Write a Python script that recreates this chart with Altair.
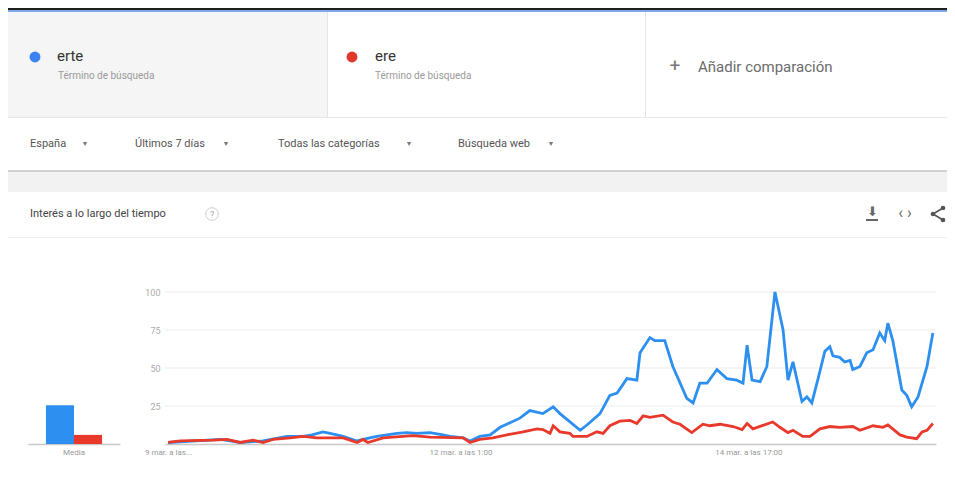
import altair as alt
import pandas as pd

# ---------------- data ----------------
series = ["erte", "ere"]
series_colors = ["#2d8ff0", "#e8392b"]
media_values = [25.5, 6]

# hours since the first sample (9 mar.)
erte_hours = [0, 11.6, 13.8, 16, 21.1, 26.4, 30, 32, 34.4, 36, 38.9, 42, 43.3, 46.4, 50.9,
              53.1, 55.3, 58.2, 61.1, 62.7, 65.6, 67.1, 69.3, 71.6, 73.8, 76, 78.2, 80.4,
              83.3, 85.6, 87.1, 91.6, 93.1, 96, 98.2, 99.8, 102, 104.2, 104.9, 107.1, 108.2,
              110.4, 112.2, 115.3, 116.7, 118.2, 119.8, 122, 124.2, 126.4, 127.8, 128.7,
              129.8, 131.6, 133.1, 134.9, 136.7, 137.8, 138.9, 140.9, 142, 143.1, 144.4,
              146, 147.1, 147.8, 149.3, 150.4, 151.6, 152.2, 153.8, 155.3, 156.7, 158.2,
              159.3, 160, 161.1, 163.1, 164.2, 165.3, 166.7, 168.7, 170]
erte_values = [1, 3, 2, 1, 2, 5, 5, 6, 8, 7, 5, 2, 3, 5, 7,
               7.5, 7, 7.5, 6, 5, 4, 2, 5, 6, 11, 14, 17, 22,
               20, 24.5, 20, 9, 12.5, 20, 32, 33.5, 43, 42, 60, 70, 68,
               68, 51, 30, 27, 40, 40, 49, 43, 42, 40, 65,
               42, 41, 51, 100, 75, 42, 54, 28, 31, 27, 42,
               61, 64, 58, 57, 54, 55, 49, 51, 60, 62, 73,
               68, 79.5, 68, 35.5, 32, 24.5, 31, 51, 73]

ere_hours = [0, 2.7, 10, 13.1, 16, 18.9, 21.1, 23.3, 27.1, 30, 33.1, 38.9, 42, 43.3, 44.4,
             47.8, 54.4, 58.2, 65.6, 67.1, 69.3, 72.2, 75.3, 78.9, 82, 83.3, 84.9, 85.6,
             87.1, 89.3, 90, 93.1, 95.3, 96.7, 98.2, 100.4, 102.7, 104.2, 105.6, 107.1,
             110, 112.2, 113.8, 116.4, 118.9, 120.4, 122.7, 125.6, 127.6, 128.7, 130,
             134.4, 136, 137.8, 138.9, 141.1, 142.7, 144.9, 147.1, 149.3, 152.2, 153.8,
             156.7, 158.9, 160, 162.7, 164.2, 166.4, 167.6, 168.7, 170]
ere_values = [1, 2, 2.5, 3, 1, 2.5, 1, 3, 4, 5, 4, 4, 1, 3, 1,
              4, 5.5, 4.5, 4, 1, 3, 4, 6, 8, 10, 9.5, 7, 12,
              8, 7, 5, 5, 8, 7, 12, 15, 15.5, 13.5, 18.5, 17.5,
              19, 14.5, 13, 7.5, 13, 12, 13, 11.5, 9.5, 13.5, 10,
              14.5, 11, 7.5, 9, 5, 5, 10, 11.5, 11, 11.5, 9,
              12, 11, 12.5, 6, 4.5, 3.5, 8, 9, 13.5]

x_tick_values = [0, 65, 129]
x_tick_labels = ["9 mar. a las...", "12 mar. a las 1:00", "14 mar. a las 17:00"]
y_tick_values = [25, 50, 75, 100]

# ---------------- tables ----------------
line_df = pd.concat([
    pd.DataFrame({"hour": erte_hours, "value": erte_values, "series": "erte"}),
    pd.DataFrame({"hour": ere_hours, "value": ere_values, "series": "ere"}),
], ignore_index=True)
bar_df = pd.DataFrame({"cat": "Media", "series": series, "value": media_values})
grid_df = pd.DataFrame({"value": y_tick_values})
one = pd.DataFrame({"a": [0]})

FONT = "Roboto"
# page position of the plot origin (top-left of the line plot area)
OX, OY = 165, 292
PLOT_W, PLOT_H = 771, 152

label_expr = "''"
for v, l in reversed(list(zip(x_tick_values, x_tick_labels))):
    label_expr = f"datum.value == {v} ? '{l}' : {label_expr}"

color_scale = alt.Scale(domain=series, range=series_colors)
y_scale = alt.Scale(domain=[0, 100], nice=False)
y_axis = alt.Axis(values=y_tick_values, grid=False, domain=False, ticks=False,
                  labelColor="#aaa", labelFontSize=9, labelFont=FONT, labelPadding=5, title=None)


def rect(x1, y1, x2, y2, color):
    return alt.Chart(one).mark_rect(color=color).encode(
        x=alt.value(x1 - OX), x2=alt.value(x2 - OX),
        y=alt.value(y1 - OY), y2=alt.value(y2 - OY))


def seg(x1, y1, x2, y2, color, w=1.6):
    return alt.Chart(one).mark_rule(color=color, strokeWidth=w).encode(
        x=alt.value(x1 - OX), x2=alt.value(x2 - OX),
        y=alt.value(y1 - OY), y2=alt.value(y2 - OY))


def txt(s, x, y, size, color, align="left", weight="normal"):
    return alt.Chart(one).mark_text(
        text=s, align=align, baseline="middle", fontSize=size, color=color,
        font=FONT, fontWeight=weight).encode(x=alt.value(x - OX), y=alt.value(y - OY))


def dot(x, y, color, size=120):
    return alt.Chart(one).mark_circle(color=color, size=size, opacity=1).encode(
        x=alt.value(x - OX), y=alt.value(y - OY))


bg = [
    rect(0, 8, 960, 10, "#1e1e1e"),
    rect(0, 10, 960, 12, "#7fa9e6"),
    rect(8, 12, 327, 117, "#f5f5f5"),
    rect(327, 12, 328, 117, "#e4e4e4"),
    rect(645, 12, 646, 117, "#e4e4e4"),
    rect(0, 117, 960, 118, "#e8e8e8"),
    rect(0, 170, 960, 172, "#d2d2d2"),
    rect(0, 172, 960, 192, "#f2f2f2"),
    rect(0, 237, 960, 238, "#efefef"),
    rect(866, 219, 878, 221, "#666"),
]

texts = [
    dot(35, 57, "#3d82f2"),
    txt("erte", 57, 56, 15, "#333"),
    txt("Término de búsqueda", 58, 76, 10, "#9a9a9a"),
    dot(352, 57, "#e0392c"),
    txt("ere", 375, 56, 15, "#333"),
    txt("Término de búsqueda", 375, 76, 10, "#9a9a9a"),
    txt("+", 675, 66, 19, "#777", align="center"),
    txt("Añadir comparación", 698, 67, 15, "#6b6b6b"),
    txt("España", 30, 144, 11, "#555"),
    txt("▼", 85, 144, 7, "#777", align="center"),
    txt("Últimos 7 días", 135, 144, 11, "#555"),
    txt("▼", 226, 144, 7, "#777", align="center"),
    txt("Todas las categorías", 278, 144, 11, "#555"),
    txt("▼", 409, 144, 7, "#777", align="center"),
    txt("Búsqueda web", 458, 144, 11, "#555"),
    txt("▼", 551, 144, 7, "#777", align="center"),
    txt("Interés a lo largo del tiempo", 30, 214, 11, "#444"),
    alt.Chart(one).mark_point(shape="circle", filled=False, size=160, color="#bbb",
                              strokeWidth=1).encode(x=alt.value(212 - OX), y=alt.value(214 - OY)),
    txt("?", 212, 214.5, 9, "#aaa", align="center"),
    txt("⬇", 872, 212, 13, "#666", align="center"),
    txt("‹ ›", 905, 213, 16, "#666", align="center"),
    seg(933, 214, 943, 208, "#555"),
    seg(933, 214, 943, 220, "#555"),
    dot(933, 214, "#555", size=22),
    dot(943, 208, "#555", size=22),
    dot(943, 220, "#555", size=22),
]

grid = alt.Chart(grid_df).mark_rule(color="#ebebeb", strokeWidth=1).encode(
    y=alt.Y("value:Q", scale=y_scale, axis=y_axis),
    x=alt.value(0), x2=alt.value(PLOT_W),
)

bars = alt.Chart(bar_df).mark_bar().encode(
    x=alt.X("cat:N", title=None,
            scale=alt.Scale(range=[28 - OX, 120 - OX], paddingOuter=0.32, paddingInner=0),
            axis=alt.Axis(orient="bottom", labelAngle=0, ticks=False, grid=False,
                          domainColor="#c8c8c8", domainWidth=1.5, labelColor="#999",
                          labelFontSize=8, labelFont=FONT, labelPadding=4)),
    xOffset=alt.XOffset("series:N", sort=series, scale=alt.Scale(paddingInner=0, paddingOuter=0)),
    y=alt.Y("value:Q", stack=None, scale=y_scale, axis=y_axis),
    color=alt.Color("series:N", scale=color_scale, legend=None),
)

lines = alt.Chart(line_df).mark_line(strokeWidth=2.8).encode(
    x=alt.X("hour:Q", title=None, scale=alt.Scale(domain=[-0.7, 170.7], nice=False, zero=False),
            axis=alt.Axis(orient="bottom", values=x_tick_values, labelExpr=label_expr, ticks=False,
                          grid=False, domainColor="#c8c8c8", domainWidth=1.5, labelColor="#999",
                          labelFontSize=8, labelFont=FONT, labelPadding=4, labelFlush=False,
                          labelOverlap=False)),
    y=alt.Y("value:Q", scale=y_scale, axis=y_axis),
    color=alt.Color("series:N", scale=color_scale, legend=None, sort=series),
    order=alt.Order("series:N"),
)

chart = alt.layer(*bg, grid, bars, lines, *texts).resolve_scale(x="independent").properties(
    width=PLOT_W, height=PLOT_H,
    autosize=alt.AutoSizeParams(type="none"),
    padding={"left": OX - 8, "top": OY - 8, "right": 939 - (OX - 8) - PLOT_W,
             "bottom": 483 - (OY - 8) - PLOT_H},
    background="white",
).configure_view(stroke=None)

chart.save("out.html", embed_options={"renderer": "svg", "actions": False})
